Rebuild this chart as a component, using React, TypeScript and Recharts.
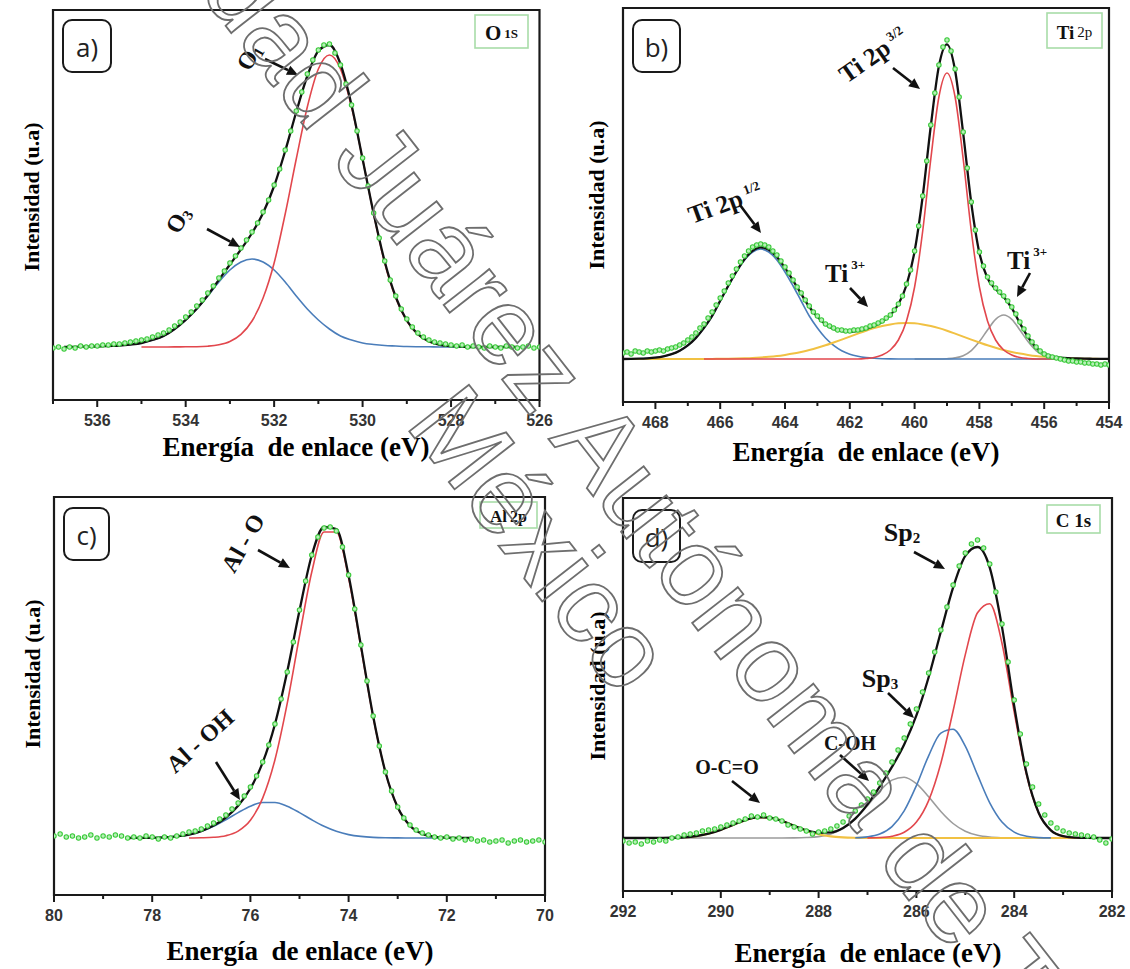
import React from "react";
import { ComposedChart, Line, ReferenceArea, Scatter, XAxis, YAxis } from "recharts";

// Heights are read above the background level of each spectrum (arbitrary units).
// Measured points are sampled every 0.125 eV, fitted curves every 0.25 eV,
// both starting at the high-energy end given by the *Start constants.

// ---------- a) O 1s ----------
const aTicks = [537, 536, 535, 534, 533, 532, 531, 530, 529, 528, 527, 526];
const aDataStart = 537;
const aData = [
  -1, 0, -2, 0, -1, 1, 0, 1, 1, 2, 2, 3, 3, 4, 5, 6, 7, 8, 10, 12, 14, 17, 21, 25, 30, 35,
  41, 47, 54, 61, 69, 76, 84, 91, 99, 107, 115, 124, 135, 147, 162, 178, 197, 216, 236, 255,
  273, 287, 297, 302, 303, 294, 282, 263, 242, 216, 189, 161, 134, 109, 86, 67, 51, 38, 28,
  20, 14, 10, 7, 5, 4, 3, 2, 1, 2, 0, 1, 0, -1, 1, 0, -1, 1, 0, -1, 0, 1, -1, 0,
];
const aFitStart = 536.75;
const aFit = [
  0, 0.2, 0.3, 0.5, 1, 1.5, 2.5, 4, 7, 11, 18, 27.2, 38.3, 51.8, 67.2, 82.5, 97.6, 114, 134,
  161, 196, 235, 271, 296, 302, 283, 242, 188, 133.5, 85.5, 50, 26.5, 12.9, 5.7, 2.2, 0.8,
  0.3, 0, 0, 0, 0, 0,
];
const aO1Start = 535;
const aO1 = [
  0, 0, 0, 0.1, 0.2, 0.3, 0.8, 2.2, 5.5, 12.6, 26, 49, 84, 133, 188, 240, 278, 292, 278, 240,
  188, 133, 84, 49, 26, 12.6, 5.5, 2.2,
];
const aO3Start = 536;
const aO3 = [
  0.5, 1, 1.5, 2.5, 4, 7, 11, 18, 27, 38, 51, 65, 77, 85, 88, 85, 77, 65, 51, 38, 27, 18, 11,
  7, 4, 2.5, 1.5, 1, 0.5, 0.3, 0.2, 0, 0, 0, 0, 0, 0, 0, 0, 0,
];

// ---------- b) Ti 2p ----------
const bTicks = [469, 468, 467, 466, 465, 464, 463, 462, 461, 460, 459, 458, 457, 456, 455, 454];
const bDataStart = 469;
const bData = [
  6, 7, 5, 8, 7, 6, 8, 7, 8, 9, 8, 10, 11, 12, 14, 16, 19, 22, 26, 31, 35, 41, 47, 54, 61, 68,
  76, 83, 90, 97, 103, 108, 112, 114, 115, 114, 112, 108, 104, 98, 92, 86, 79, 72, 66, 59, 53,
  47, 43, 39, 35, 33, 31, 29, 29, 28, 28, 29, 29, 30, 31, 33, 34, 36, 38, 41, 44, 49, 55, 63,
  75, 89, 108, 133, 163, 198, 234, 266, 294, 312, 319, 308, 290, 262, 227, 191, 157, 129, 107,
  93, 82, 76, 71, 67, 63, 58, 52, 45, 37, 30, 23, 17, 12, 8, 5, 3, 2, 1, 0, -1, -2, -2, -3, -3,
  -4, -4, -5, -5, -6, -5, -6,
];
const bFitStart = 469;
const bFit = [
  0, 0.1, 0.3, 0.7, 1.4, 2.7, 4.8, 8.3, 13.6, 21.1, 31.1, 43.1, 58.2, 73.3, 87.5, 99.8, 108.1,
  111.6, 109.2, 102, 91.1, 78.4, 65.1, 52, 42.2, 34.7, 30.1, 27.9, 27.2, 28.1, 30.2, 33.1, 37.3,
  43.7, 54.7, 74, 107.7, 162.6, 233, 292.9, 314.6, 288.5, 225.7, 155.8, 105.9, 80.7, 69.9, 62,
  50.8, 35.9, 22, 11.4, 5.5, 2.7, 1.4, 0.8, 0.5, 0.3, 0.2, 0.1, 0.1,
];
const b12Start = 469;
const b12 = [
  0, 0.1, 0.3, 0.7, 1.4, 2.7, 4.8, 8.3, 13.6, 21, 31, 43, 58, 73, 87, 99, 107, 110, 107, 99, 87,
  73, 58, 43, 31, 21, 13.6, 8.3, 4.8, 2.7, 1.4, 0.7, 0.3, 0.1, 0, 0, 0, 0, 0, 0, 0, 0, 0, 0, 0,
  0, 0, 0, 0, 0, 0, 0, 0, 0, 0, 0, 0, 0, 0, 0, 0,
];
const bTi3BroadStart = 469;
const bTi3Broad = [
  0, 0, 0, 0, 0, 0, 0, 0, 0, 0, 0, 0.1, 0.2, 0.3, 0.5, 0.76, 1.1, 1.6, 2.2, 3, 4.1, 5.4, 7.1, 9,
  11.2, 13.7, 16.5, 19.4, 22.4, 25.4, 28.3, 30.9, 33, 34.6, 35.7, 36, 35.7, 34.6, 33, 30.9, 28.3,
  25.4, 22.4, 19.4, 16.5, 13.7, 11.2, 9, 7.1, 5.4, 4.1, 3, 2.2, 1.6, 1.1, 0.76, 0.5, 0.3, 0.2,
  0.1, 0.1,
];
const b32Start = 466.5;
const b32 = [
  0, 0, 0, 0, 0, 0, 0, 0, 0, 0, 0, 0, 0, 0, 0, 0, 0, 0, 0, 0, 0.5, 1.5, 4, 9, 19, 38, 72, 128,
  200, 262, 286, 262, 200, 128, 72, 38, 19, 9, 4, 1.5, 0.5, 0, 0, 0, 0,
];
const bTi3Start = 460;
const bTi3 = [
  0, 0, 0, 0, 0.3, 1.1, 3.3, 8.4, 17.4, 29, 39.7, 44, 39.7, 29, 17.4, 8.4, 3.3, 1.1, 0.3, 0, 0,
];

// ---------- c) Al 2p ----------
const cTicks = [80, 79, 78, 77, 76, 75, 74, 73, 72, 71, 70];
const cDataStart = 80;
const cData = [
  2, 4, 1, 2, 0, 1, 3, 0, 2, 1, 3, 2, 0, 1, 0, 2, 1, -1, 1, 0, 2, 4, 6, 7, 9, 12, 15, 19, 23,
  29, 35, 42, 51, 62, 76, 93, 114, 139, 166, 196, 228, 257, 283, 301, 310, 311, 307, 291, 263,
  229, 193, 157, 122, 92, 66, 47, 31, 20, 13, 8, 5, 3, 1, 0, 1, -1, 0, -2, -1, -3, -2, -4, -3,
  -2, -5, -3, -2, -4, -3, -2, -4,
];
const cFitStart = 78.5;
const cFit = [
  0, 0.1, 0.2, 0.7, 1.6, 3.4, 6.9, 12.4, 20.5, 32.3, 49.5, 75.4, 113.8, 166.4, 227.4, 282.7,
  311, 309, 262.4, 192.6, 121.7, 66, 30.7, 12.3, 4.2, 1.2, 0.3, 0.1, 0,
];
const cAlOStart = 77.25;
const cAlO = [
  0, 0.2, 0.7, 2.3, 6.9, 17.7, 39.9, 78.3, 134.6, 202, 266, 306, 306, 260, 191, 121, 65.8,
  30.6, 12.3, 4.2, 1.2, 0.3,
];
const cAlOHStart = 78.25;
const cAlOH = [
  0.1, 0.24, 0.65, 1.6, 3.4, 6.7, 11.7, 18.2, 25.4, 31.8, 35.5, 35.5, 31.8, 25.4, 18.2, 11.7,
  6.7, 3.4, 1.6, 0.65, 0.24, 0.1, 0, 0, 0, 0, 0,
];

// ---------- d) C 1s ----------
const dTicks = [292, 291, 290, 289, 288, 287, 286, 285, 284, 283, 282];
const dDataStart = 292;
const dData = [
  -3, -5, -4, -6, -3, -4, -2, -3, 0, 1, 3, 4, 5, 7, 8, 9, 11, 13, 15, 17, 19, 22, 21, 23, 20,
  19, 17, 13, 11, 9, 7, 4, 6, 7, 9, 12, 16, 22, 27, 33, 39, 46, 55, 65, 76, 88, 100, 114, 129,
  146, 165, 186, 208, 231, 253, 272, 285, 294, 298, 290, 274, 246, 214, 176, 138, 104, 74, 51,
  34, 23, 15, 10, 7, 5, 4, 3, 2, 1, -2, -5, -1,
];
const dFitStart = 292;
const dFit = [
  0, 0, 0, 0.1, 0.25, 0.75, 2, 4.35, 8.2, 13.1, 17.9, 20.7, 20.4, 17.1, 12.2, 7.7, 5.2, 5.6, 10,
  19.4, 33.6, 51.3, 71.1, 93.6, 122.6, 160.8, 206.2, 250.3, 282.1, 291, 270.4, 211.1, 132, 65.3,
  25.3, 7.7, 1.8, 0.3, 0.05, 0, 0,
];
const dSp2Start = 287;
const dSp2 = [
  0.1, 0.46, 1.8, 5.7, 15.9, 37.4, 74.8, 127, 183.4, 225.2, 234.3, 194.8, 126, 63.5, 24.9, 7.6,
  1.8, 0.34,
];
const dSp3Start = 287.25;
const dSp3 = [
  0.25, 1.1, 3.9, 11.4, 27.1, 52.4, 82.2, 104.9, 108.8, 91.9, 63.1, 35.2, 16, 5.9, 1.8, 0.4, 0.1,
];
const dCOHStart = 292;
const dCOH = [
  0, 0, 0, 0, 0, 0, 0, 0, 0, 0, 0, 0, 0, 0.02, 0.1, 0.43, 1.4, 4, 9.4, 18.9, 32.3, 46.9, 57.9,
  60.8, 54.3, 41.2, 26.5, 14.5, 6.8, 2.7, 0.9, 0.26, 0.06, 0, 0,
];
const dOCOStart = 290.75;
const dOCO = [
  0.75, 1.96, 4.35, 8.2, 13.1, 17.9, 20.7, 20.4, 17.1, 12.1, 7.3, 3.8, 1.6, 0.6, 0.2, 0.05, 0, 0,
  0, 0, 0, 0, 0, 0, 0, 0, 0, 0, 0, 0, 0, 0, 0, 0, 0, 0,
];

const DATA_STEP = 0.125;
const FIT_STEP = 0.25;

const RED = "#e2474d";
const BLUE = "#4a7dba";
const YELLOW = "#f1c143";
const GRAY = "#9c9c9c";
const BLACK = "#111";
const GREEN = "#38c938";

const SERIF = "'Liberation Serif', 'Times New Roman', serif";
const SANS = "'Liberation Sans', Arial, sans-serif";

function pts(start: number, step: number, values: number[]) {
  return values.map((y, i) => ({ x: Math.round((start - i * step) * 1000) / 1000, y }));
}

function EnergyTick(props: any) {
  const { x, y, payload } = props;
  const major = payload.value % 2 === 0;
  return (
    <g>
      <line x1={x} x2={x} y1={y} y2={y + (major ? 7 : 4)} stroke="#1a1a1a" strokeWidth={2} />
      {major && (
        <text x={x} y={y + 26} textAnchor="middle" fontFamily={SANS} fontWeight="bold" fontSize={16} fill="#333">
          {payload.value}
        </text>
      )}
    </g>
  );
}

const greenDot = (p: any) => (
  <circle cx={p.cx} cy={p.cy} r={2.2} fill="#b6efb6" stroke={GREEN} strokeWidth={1.1} />
);

type Curve = { start: number; values: number[]; color: string; width?: number };

type PanelProps = {
  left: number;
  top: number;
  width: number;
  height: number;
  margin: { top: number; right: number; bottom: number; left: number };
  xDomain: [number, number];
  yDomain: [number, number];
  ticks: number[];
  dataStart: number;
  data: number[];
  curves: Curve[];
  fitStart: number;
  fit: number[];
};

function Panel(p: PanelProps) {
  const frame = { stroke: "#1a1a1a", strokeWidth: 2 };
  return (
    <div style={{ position: "absolute", left: p.left, top: p.top }}>
      <ComposedChart width={p.width} height={p.height} margin={p.margin}>
        <XAxis
          dataKey="x"
          type="number"
          domain={p.xDomain}
          reversed
          allowDataOverflow
          ticks={p.ticks}
          interval={0}
          tickLine={false}
          tickSize={0}
          tickMargin={0}
          tick={<EnergyTick />}
          axisLine={frame}
          height={30}
        />
        <YAxis dataKey="y" type="number" domain={p.yDomain} allowDataOverflow tick={false} tickLine={false} axisLine={frame} width={0} />
        {p.curves.map((c, i) => (
          <Line
            key={i}
            data={pts(c.start, FIT_STEP, c.values)}
            dataKey="y"
            type="monotone"
            stroke={c.color}
            strokeWidth={c.width ?? 1.6}
            dot={false}
            activeDot={false}
            isAnimationActive={false}
          />
        ))}
        <Scatter data={pts(p.dataStart, DATA_STEP, p.data)} dataKey="y" shape={greenDot} isAnimationActive={false} />
        <Line
          data={pts(p.fitStart, FIT_STEP, p.fit)}
          dataKey="y"
          type="monotone"
          stroke={BLACK}
          strokeWidth={2.3}
          dot={false}
          activeDot={false}
          isAnimationActive={false}
        />
        <ReferenceArea
          x1={p.xDomain[0]}
          x2={p.xDomain[1]}
          y1={p.yDomain[0]}
          y2={p.yDomain[1]}
          fill="none"
          fillOpacity={0}
          stroke="#1a1a1a"
          strokeWidth={2.2}
          ifOverflow="visible"
        />
      </ComposedChart>
    </div>
  );
}

function Arrow({ x1, y1, x2, y2 }: { x1: number; y1: number; x2: number; y2: number }) {
  const a = Math.atan2(y2 - y1, x2 - x1);
  const len = 11;
  const half = 5;
  const bx = x2 - len * Math.cos(a);
  const by = y2 - len * Math.sin(a);
  const p1 = `${bx + half * Math.sin(a)},${by - half * Math.cos(a)}`;
  const p2 = `${bx - half * Math.sin(a)},${by + half * Math.cos(a)}`;
  return (
    <g>
      <line x1={x1} y1={y1} x2={bx} y2={by} stroke={BLACK} strokeWidth={2.6} />
      <polygon points={`${x2},${y2} ${p1} ${p2}`} fill={BLACK} />
    </g>
  );
}

function Note({ x, y, rot = 0, size = 24, children }: { x: number; y: number; rot?: number; size?: number; children: React.ReactNode }) {
  return (
    <text
      transform={`translate(${x},${y}) rotate(${rot})`}
      textAnchor="middle"
      dominantBaseline="central"
      fontFamily={SERIF}
      fontWeight="bold"
      fontSize={size}
      fill="#111"
    >
      {children}
    </text>
  );
}

function Tag({ x, y, w, h, label }: { x: number; y: number; w: number; h: number; label: string }) {
  return (
    <g>
      <rect x={x} y={y} width={w} height={h} rx={9} fill="#fff" stroke="#1a1a1a" strokeWidth={2} />
      <text x={x + w / 2} y={y + h / 2 + 1} textAnchor="middle" dominantBaseline="central" fontFamily="'Open Sans', sans-serif" fontSize={26} fill="#222">
        {label}
      </text>
    </g>
  );
}

function Badge({ x, y, w, h, children }: { x: number; y: number; w: number; h: number; children: React.ReactNode }) {
  return (
    <g>
      <rect x={x} y={y} width={w} height={h} fill="#fff" stroke="#a8dca8" strokeWidth={1.6} />
      <text x={x + w / 2} y={y + h / 2 + 1} textAnchor="middle" dominantBaseline="central" fontFamily={SERIF} fontWeight="bold" fill="#111">
        {children}
      </text>
    </g>
  );
}

function Overlay() {
  const xTitle = "Energía  de enlace (eV)";
  const yTitle = "Intensidad (u.a)";
  const tStyle = { whiteSpace: "pre" as const };
  return (
    <svg width={1130} height={969} style={{ position: "absolute", left: 0, top: 0, pointerEvents: "none" }}>
      {/* axis titles */}
      <text x={296} y={447} textAnchor="middle" dominantBaseline="central" fontFamily={SERIF} fontWeight="bold" fontSize={27} style={tStyle}>{xTitle}</text>
      <text x={866} y={452} textAnchor="middle" dominantBaseline="central" fontFamily={SERIF} fontWeight="bold" fontSize={27} style={tStyle}>{xTitle}</text>
      <text x={300} y={951} textAnchor="middle" dominantBaseline="central" fontFamily={SERIF} fontWeight="bold" fontSize={27} style={tStyle}>{xTitle}</text>
      <text x={868} y={953} textAnchor="middle" dominantBaseline="central" fontFamily={SERIF} fontWeight="bold" fontSize={27} style={tStyle}>{xTitle}</text>
      {[[31, 197], [596, 195], [32, 674], [597, 686]].map(([x, y], i) => (
        <text key={i} transform={`translate(${x},${y}) rotate(-90)`} textAnchor="middle" dominantBaseline="central" fontFamily={SERIF} fontWeight="bold" fontSize={22}>
          {yTitle}
        </text>
      ))}

      {/* panel tags */}
      <Tag x={63} y={20} w={48} h={52} label="a)" />
      <Tag x={633} y={20} w={47} h={52} label="b)" />
      <Tag x={64} y={508} w={45} h={52} label="c)" />
      <Tag x={633} y={510} w={47} h={52} label="d)" />

      {/* core-level badges */}
      <Badge x={475} y={15} w={53} h={33}>
        <tspan fontSize={21}>O</tspan>
        <tspan fontSize={13} dx={3}>1S</tspan>
      </Badge>
      <Badge x={1047} y={13} w={55} h={35}>
        <tspan fontSize={19}>Ti</tspan>
        <tspan fontSize={15} dx={3} fontWeight="normal">2p</tspan>
      </Badge>
      <Badge x={480} y={502} w={57} h={26}>
        <tspan fontSize={17}>Al</tspan>
        <tspan fontSize={16} dx={3}>2p</tspan>
      </Badge>
      <Badge x={1047} y={505} w={53} h={28}>
        <tspan fontSize={19}>C 1s</tspan>
      </Badge>

      {/* a) */}
      <Note x={249} y={57} rot={-60}>O<tspan fontSize={15} dy={6}>1</tspan></Note>
      <Arrow x1={265} y1={59} x2={298} y2={75} />
      <Note x={178} y={220} rot={-60}>O<tspan fontSize={15} dy={6}>3</tspan></Note>
      <Arrow x1={207} y1={229} x2={240} y2={247} />

      {/* b) */}
      <Note x={873} y={55} rot={-35} size={25}>Ti 2p<tspan fontSize={13} dx={4} dy={-6}>3/2</tspan></Note>
      <Arrow x1={893} y1={68} x2={920} y2={89} />
      <Note x={725} y={203} rot={-20} size={25}>Ti 2p<tspan fontSize={13} dx={4} dy={-6}>1/2</tspan></Note>
      <Arrow x1={740} y1={205} x2={761} y2={233} />
      <Note x={845} y={273} size={25}>Ti<tspan fontSize={13} dx={3} dy={-9}>3+</tspan></Note>
      <Arrow x1={850} y1={288} x2={868} y2={307} />
      <Note x={1027} y={260} size={25}>Ti<tspan fontSize={13} dx={3} dy={-9}>3+</tspan></Note>
      <Arrow x1={1030} y1={273} x2={1017} y2={297} />

      {/* c) */}
      <Note x={243} y={543} rot={-60}>Al - O</Note>
      <Arrow x1={258} y1={550} x2={290} y2={568} />
      <Note x={200} y={741} rot={-42}>Al - OH</Note>
      <Arrow x1={216} y1={762} x2={240} y2={800} />

      {/* d) */}
      <Note x={902} y={532} size={26}>Sp<tspan fontSize={15} dy={6}>2</tspan></Note>
      <Arrow x1={914} y1={552} x2={945} y2={569} />
      <Note x={880} y={678} size={26}>Sp<tspan fontSize={15} dy={6}>3</tspan></Note>
      <Arrow x1={888} y1={693} x2={914} y2={718} />
      <Note x={850} y={743} size={20}>C-OH</Note>
      <Arrow x1={840} y1={755} x2={869} y2={781} />
      <Note x={727} y={767} size={20}>O-C=O</Note>
      <Arrow x1={732} y1={781} x2={760} y2={803} />

      {/* outlined watermark across the figure */}
      <g transform="translate(-46.5,-322.6) rotate(52)" fill="none" stroke="#6e6e6e" strokeWidth={1.8} fontFamily={SANS} fontSize={110}>
        <text x={0} y={0}>Universidad Juárez Autónoma de Tabasco</text>
        <text x={1040} y={105} textAnchor="middle">México</text>
      </g>
    </svg>
  );
}

export default function App() {
  return (
    <div style={{ position: "absolute", left: 0, top: 0, width: 1130, height: 969, background: "#fff", overflow: "hidden" }}>
      <Panel
        left={0}
        top={0}
        width={565}
        height={470}
        margin={{ top: 10, right: 25.5, bottom: 40, left: 53 }}
        xDomain={[526, 537]}
        yDomain={[-53, 337]}
        ticks={aTicks}
        dataStart={aDataStart}
        data={aData}
        curves={[
          { start: aO3Start, values: aO3, color: BLUE },
          { start: aO1Start, values: aO1, color: RED },
        ]}
        fitStart={aFitStart}
        fit={aFit}
      />
      <Panel
        left={565}
        top={0}
        width={565}
        height={470}
        margin={{ top: 8, right: 21, bottom: 38, left: 58 }}
        xDomain={[454, 469]}
        yDomain={[-43, 351]}
        ticks={bTicks}
        dataStart={bDataStart}
        data={bData}
        curves={[
          { start: bTi3Start, values: bTi3, color: GRAY },
          { start: b12Start, values: b12, color: BLUE },
          { start: bTi3BroadStart, values: bTi3Broad, color: YELLOW, width: 2 },
          { start: b32Start, values: b32, color: RED },
        ]}
        fitStart={bFitStart}
        fit={bFit}
      />
      <Panel
        left={0}
        top={470}
        width={565}
        height={499}
        margin={{ top: 27, right: 20, bottom: 44, left: 54 }}
        xDomain={[70, 80]}
        yDomain={[-57, 341]}
        ticks={cTicks}
        dataStart={cDataStart}
        data={cData}
        curves={[
          { start: cAlOHStart, values: cAlOH, color: BLUE },
          { start: cAlOStart, values: cAlO, color: RED },
        ]}
        fitStart={cFitStart}
        fit={cFit}
      />
      <Panel
        left={565}
        top={470}
        width={565}
        height={499}
        margin={{ top: 28, right: 18, bottom: 48, left: 58 }}
        xDomain={[282, 292]}
        yDomain={[-53, 340]}
        ticks={dTicks}
        dataStart={dDataStart}
        data={dData}
        curves={[
          { start: dCOHStart, values: dCOH, color: GRAY },
          { start: dOCOStart, values: dOCO, color: YELLOW, width: 2.2 },
          { start: dSp3Start, values: dSp3, color: BLUE },
          { start: dSp2Start, values: dSp2, color: RED },
        ]}
        fitStart={dFitStart}
        fit={dFit}
      />
      <Overlay />
    </div>
  );
}
